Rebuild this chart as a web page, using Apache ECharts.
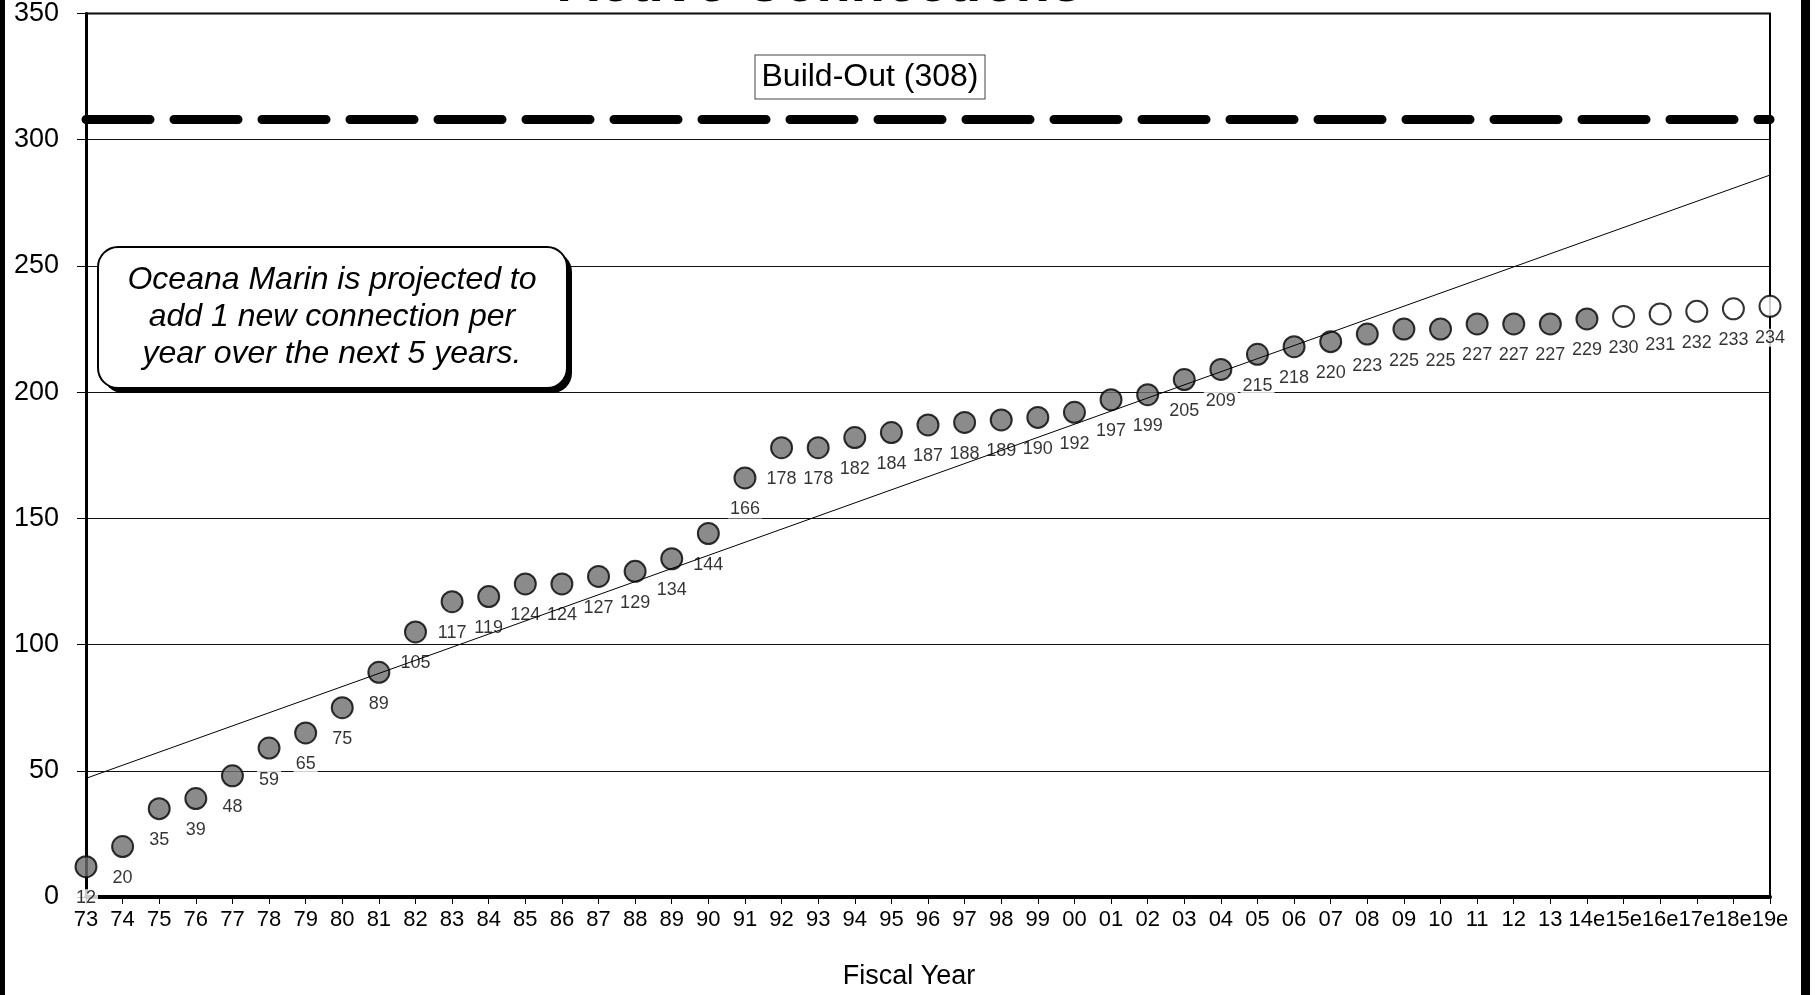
<!DOCTYPE html>
<html><head><meta charset="utf-8">
<script src="https://cdn.jsdelivr.net/npm/echarts@6/dist/echarts.min.js"></script>
<style>html,body{margin:0;padding:0;background:#fff}#c{width:1816px;height:995px}</style>
</head><body><div id="c"></div>
<script>
const fiscalYears = ['73','74','75','76','77','78','79','80','81','82','83','84','85','86','87','88','89','90','91','92','93','94','95','96','97','98','99','00','01','02','03','04','05','06','07','08','09','10','11','12','13','14e','15e','16e','17e','18e','19e'];
const actualConnections = [12,20,35,39,48,59,65,75,89,105,117,119,124,124,127,129,134,144,166,178,178,182,184,187,188,189,190,192,197,199,205,209,215,218,220,223,225,225,227,227,227,229];
const projectedConnections = [230,231,232,233,234];
const buildOut = 308;
const trendStartValue = 47;
const trendEndValue = 286;
const titleText = 'Active Connections';
const noteLines = ['Oceana Marin is projected to', 'add 1 new connection per', 'year over the next 5 years.'];

const FONT = "'Liberation Sans', Arial, sans-serif";
const nA = actualConnections.length;
const actualData = fiscalYears.map((y, i) => i < nA ? actualConnections[i] : '-');
const projectedData = fiscalYears.map((y, i) => i >= nA ? projectedConnections[i - nA] : '-');
const trendData = [[fiscalYears[0], trendStartValue], [fiscalYears[fiscalYears.length - 1], trendEndValue]];

const labelStyle = {
  show: true, position: 'bottom', distance: 11, color: '#000', fontSize: 18, fontFamily: FONT,
  backgroundColor: '#fff', padding: [0, 2]
};

const chart = echarts.init(document.getElementById('c'), null, {renderer: 'canvas'});
chart.setOption({
  animation: false,
  backgroundColor: '#fff',
  textStyle: {fontFamily: FONT},
  grid: {left: 86, right: 46, top: 12, bottom: 97, show: true, borderColor: '#000', borderWidth: 2, backgroundColor: 'transparent'},
  xAxis: {
    type: 'category', data: fiscalYears, boundaryGap: false,
    axisLine: {lineStyle: {color: '#000', width: 4}},
    axisTick: {show: true, alignWithLabel: true, length: 7, lineStyle: {color: '#000', width: 1}},
    axisLabel: {color: '#000', fontSize: 22, fontFamily: FONT, margin: 12, interval: 0},
    name: 'Fiscal Year', nameLocation: 'middle', nameGap: 66,
    nameTextStyle: {color: '#000', fontSize: 27, fontFamily: FONT, padding: [0, 38, 0, 0]},
    splitLine: {show: false}
  },
  yAxis: {
    type: 'value', min: 0, max: 350, interval: 50,
    axisLine: {show: true, lineStyle: {color: '#000', width: 3}},
    axisTick: {show: true, length: 9, lineStyle: {color: '#000', width: 1}},
    axisLabel: {color: '#000', fontSize: 27, fontFamily: FONT, margin: 27},
    splitLine: {show: true, lineStyle: {color: '#111', width: 1}}
  },
  series: [
    {
      name: 'Build-Out', type: 'line', data: [], z: 2,
      markLine: {
        silent: true, symbol: ['none', 'none'], label: {show: false},
        lineStyle: {color: '#000', width: 9, type: [64, 24], cap: 'round'},
        data: [{yAxis: buildOut}]
      }
    },
    {
      name: 'Actual', type: 'scatter', data: actualData, z: 2,
      symbol: 'circle', symbolSize: 21,
      itemStyle: {color: '#6e6e6e', borderColor: '#000', borderWidth: 2},
      label: labelStyle
    },
    {
      name: 'Projected', type: 'scatter', data: projectedData, z: 2,
      symbol: 'circle', symbolSize: 21,
      itemStyle: {color: '#fff', borderColor: '#000', borderWidth: 2},
      label: labelStyle
    },
    {
      name: 'Trend', type: 'line', data: trendData, z: 5, symbol: 'none',
      lineStyle: {color: '#000', width: 1}
    }
  ],
  graphic: [
    {type: 'rect', left: 0, top: 0, shape: {width: 5, height: 995}, style: {fill: '#000'}, z: 100},
    {type: 'rect', left: 1801, top: 0, shape: {width: 9, height: 995}, style: {fill: '#000'}, z: 100},
    {type: 'text', x: 561, y: 14, z: 100, style: {text: titleText, font: "italic bold 56px " + FONT, fill: '#000', verticalAlign: 'bottom'}},
    {type: 'text', x: 870, y: 77, z: 100, style: {
      text: 'Build-Out (308)', font: "32px " + FONT, fill: '#000', align: 'center', verticalAlign: 'middle',
      backgroundColor: '#fff', borderColor: '#444', borderWidth: 1, padding: [6, 6, 5, 6]}},
    {type: 'rect', x: 103, y: 252, z: 100, shape: {width: 469, height: 141, r: 20}, style: {fill: '#000'}},
    {type: 'rect', x: 98, y: 247, z: 101, shape: {width: 469, height: 141, r: 20}, style: {fill: '#fff', stroke: '#000', lineWidth: 2}},
    {type: 'text', x: 332, y: 317, z: 102, style: {
      text: noteLines.join('\n'), font: "italic 32px " + FONT, fill: '#000', align: 'center', verticalAlign: 'middle', lineHeight: 37}}
  ]
});
</script></body></html>
